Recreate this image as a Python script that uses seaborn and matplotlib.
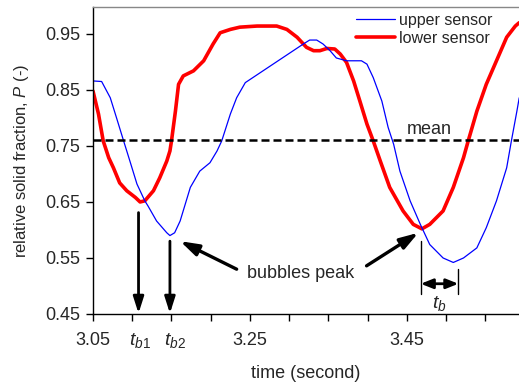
import numpy as np
import pandas as pd
import matplotlib
matplotlib.use("Agg")
import matplotlib.pyplot as plt
import seaborn as sns
from matplotlib.lines import Line2D

# ---- data ----
upper_t = [3.050, 3.061, 3.072, 3.080, 3.089, 3.097, 3.106, 3.116, 3.120, 3.131, 3.144, 3.148,
           3.154, 3.161, 3.174, 3.186, 3.199, 3.208, 3.214, 3.225, 3.233, 3.244, 3.318, 3.326,
           3.335, 3.343, 3.352, 3.360, 3.373, 3.392, 3.399, 3.407, 3.418, 3.426, 3.433, 3.441,
           3.454, 3.467, 3.479, 3.496, 3.509, 3.522, 3.539, 3.551, 3.564, 3.577, 3.583, 3.590, 3.593]
upper_p = [0.866, 0.865, 0.836, 0.800, 0.759, 0.723, 0.682, 0.652, 0.643, 0.616, 0.595, 0.590,
           0.595, 0.616, 0.676, 0.705, 0.720, 0.741, 0.759, 0.807, 0.836, 0.863, 0.932, 0.939,
           0.939, 0.932, 0.920, 0.907, 0.902, 0.902, 0.896, 0.872, 0.830, 0.783, 0.753, 0.705,
           0.652, 0.610, 0.574, 0.550, 0.542, 0.550, 0.568, 0.604, 0.652, 0.711, 0.759, 0.812, 0.836]

lower_t = [3.050, 3.057, 3.063, 3.070, 3.076, 3.084, 3.093, 3.104, 3.110, 3.116, 3.127, 3.135,
           3.144, 3.148, 3.150, 3.155, 3.159, 3.165, 3.178, 3.191, 3.203, 3.212, 3.225, 3.237,
           3.259, 3.284, 3.297, 3.310, 3.322, 3.331, 3.339, 3.348, 3.358, 3.365, 3.373, 3.382,
           3.390, 3.399, 3.407, 3.416, 3.428, 3.445, 3.458, 3.469, 3.479, 3.496, 3.509, 3.522,
           3.528, 3.539, 3.551, 3.564, 3.577, 3.588, 3.593]
lower_p = [0.848, 0.807, 0.759, 0.729, 0.711, 0.684, 0.670, 0.658, 0.650, 0.652, 0.670, 0.693,
           0.723, 0.741, 0.759, 0.812, 0.860, 0.875, 0.884, 0.902, 0.932, 0.952, 0.958, 0.962,
           0.964, 0.964, 0.958, 0.944, 0.926, 0.920, 0.920, 0.924, 0.923, 0.914, 0.899, 0.866,
           0.830, 0.789, 0.759, 0.723, 0.676, 0.634, 0.610, 0.602, 0.610, 0.634, 0.676, 0.729,
           0.759, 0.812, 0.860, 0.902, 0.944, 0.964, 0.970]

series_names = ["upper sensor", "lower sensor"]
mean_value = 0.761
y_ticks = [0.45, 0.55, 0.65, 0.75, 0.85, 0.95]
x_major = [3.05, 3.25, 3.45]
x_minor = [3.05, 3.10, 3.15, 3.20, 3.25, 3.30, 3.35, 3.40, 3.45, 3.50, 3.55]
tb1, tb2 = 3.108, 3.148
tb_left, tb_right = 3.4675, 3.5155

# ---- style ----
sns.set_theme(style="ticks")
plt.rcParams["font.family"] = ["Liberation Sans", "DejaVu Sans"]
plt.rcParams["mathtext.fontset"] = "custom"
plt.rcParams["mathtext.rm"] = "Liberation Sans"
plt.rcParams["mathtext.it"] = "Liberation Sans:italic"

fig = plt.figure(figsize=(5.19, 3.88), dpi=100)
ax = fig.add_axes([93/519, 74/388, 426/519, 307/388])

df = pd.concat([
    pd.DataFrame({"t": upper_t, "P": upper_p, "sensor": series_names[0]}),
    pd.DataFrame({"t": lower_t, "P": lower_p, "sensor": series_names[1]}),
])
sns.lineplot(data=df, x="t", y="P", hue="sensor", size="sensor",
             palette={series_names[0]: "#0000ff", series_names[1]: "#ff0000"},
             sizes={series_names[0]: 0.9, series_names[1]: 2.6},
             hue_order=[series_names[1], series_names[0]],
             estimator=None, sort=True, ax=ax, legend=False)

ax.axhline(mean_value, color="black", lw=1.8, ls=(0, (3.2, 1.6)))
ax.text(3.479, 0.780, "mean", fontsize=13, ha="center", va="center")

ax.set_xlim(3.05, 3.5927)
ax.set_ylim(0.45, 0.998)
ax.set_xticks(x_major)
ax.set_xticklabels([f"{v:.2f}" for v in x_major])
ax.set_xticks(x_minor, minor=True)
ax.set_yticks(y_ticks)
ax.set_yticklabels([f"{v:.2f}" for v in y_ticks])
ax.tick_params(axis="x", which="both", direction="out", length=5, width=1, pad=8,
               labelsize=13, color="black")
ax.tick_params(axis="y", direction="out", length=5, width=1, pad=4, labelsize=13, color="black")

for s in ["left", "bottom"]:
    ax.spines[s].set_color("black")
    ax.spines[s].set_linewidth(1)
ax.spines["top"].set_color("#888888")
ax.spines["top"].set_linewidth(1)
ax.spines["right"].set_visible(False)

ax.set_xlabel("time (second)", fontsize=13)
ax.set_ylabel("relative solid fraction, $P$ (-)", fontsize=12)
ax.xaxis.set_label_coords(0.5, -0.166)
ax.yaxis.set_label_coords(-0.145, 0.5)

# bubble arrows
arr = dict(arrowstyle="-|>,head_width=0.35,head_length=1.1", lw=2, color="black",
           mutation_scale=9, shrinkA=0, shrinkB=0)
ax.annotate("", xy=(tb1, 0.451), xytext=(tb1, 0.631), arrowprops=arr)
ax.annotate("", xy=(tb2, 0.451), xytext=(tb2, 0.580), arrowprops=arr)
xt = ax.get_xaxis_transform()
ax.text(tb1 + 0.002, -0.055, r"$t_{\mathit{b1}}$", transform=xt, fontsize=14,
        ha="center", va="top")
ax.text(tb2 + 0.006, -0.055, r"$t_{\mathit{b2}}$", transform=xt, fontsize=14,
        ha="center", va="top")

arr2 = dict(arrowstyle="-|>,head_width=0.35,head_length=1.1", lw=2.4, color="black",
            mutation_scale=10, shrinkA=0, shrinkB=0)
ax.text(3.315, 0.523, "bubbles peak", fontsize=13, ha="center", va="center")
ax.annotate("", xy=(3.161, 0.580), xytext=(3.233, 0.530), arrowprops=arr2)
ax.annotate("", xy=(3.4645, 0.595), xytext=(3.3985, 0.536), arrowprops=arr2)

# t_b span
ax.plot([tb_left, tb_left], [0.486, 0.580], color="black", lw=1)
ax.plot([tb_right, tb_right], [0.486, 0.530], color="black", lw=1)
arr3 = dict(arrowstyle="<|-|>,head_width=0.32,head_length=0.8", lw=2, color="black",
            mutation_scale=9, shrinkA=0, shrinkB=0)
ax.annotate("", xy=(tb_right, 0.504), xytext=(tb_left, 0.504), arrowprops=arr3)
ax.text((tb_left + tb_right) / 2, 0.468, r"$t_{\mathit{b}}$", fontsize=14,
        ha="center", va="center")

# legend
handles = [Line2D([], [], color="#0000ff", lw=0.9), Line2D([], [], color="#ff0000", lw=2.6)]
ax.legend(handles, series_names, loc="upper left", bbox_to_anchor=(0.618, 0.982),
          frameon=False, fontsize=11.5, handlelength=2.4, handletextpad=0.3,
          labelspacing=0.2, borderpad=0, borderaxespad=0)

fig.savefig("out.png", dpi=100)
